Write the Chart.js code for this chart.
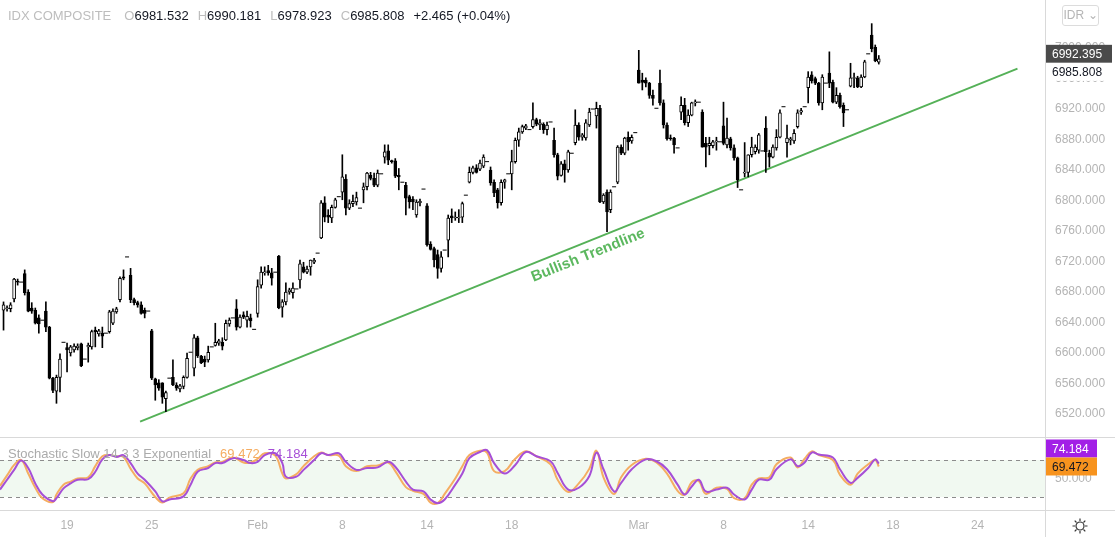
<!DOCTYPE html>
<html>
<head>
<meta charset="utf-8">
<title>IDX Composite</title>
<script src="https://cdn.jsdelivr.net/npm/chart.js@4.4.1/dist/chart.umd.min.js"></script>
<style>
  html, body { margin: 0; padding: 0; background: #fff; }
  body { width: 1115px; height: 537px; overflow: hidden; position: relative; font-family: "Liberation Sans", Arial, sans-serif; }
  canvas { position: absolute; left: 0; }
  #price { top: 0; }
  #stoch { top: 437px; }
  .line { position: absolute; background: #d9d9d9; }
  #legend { position: absolute; left: 8px; top: 8px; font-size: 13px; color: #131722; white-space: pre; }
  #stochLegend { position: absolute; left: 8px; top: 446px; font-size: 13px; color: #ababab; white-space: pre; }
  .g { color: #bdbdbd; }
  .gap { margin-left: 9px; }
  #idr { position: absolute; left: 1062px; top: 5px; width: 35px; height: 19px; border: 1px solid #dcdcdc; border-radius: 3px;
         font-size: 12px; color: #b5b5b5; line-height: 19px; text-align: center; }
  #gear { position: absolute; left: 1071px; top: 517px; }
</style>
</head>
<body>
<div class="line" style="left:0;top:437px;width:1115px;height:1px"></div>
<div class="line" style="left:0;top:510px;width:1115px;height:1px"></div>
<div class="line" style="left:1045px;top:0;width:1px;height:537px"></div>
<canvas id="price" width="1115" height="437"></canvas>
<canvas id="stoch" width="1115" height="100"></canvas>
<div id="legend"></div>
<div id="stochLegend"></div>
<div id="idr">IDR &#8964;</div>
<svg id="gear" width="18" height="18" viewBox="0 0 18 18"><g stroke="#333" stroke-width="1.2" fill="none"><circle cx="9" cy="9" r="4"/><path d="M9 1.5v2.5M9 14v2.5M1.5 9h2.5M14 9h2.5M3.7 3.7l1.8 1.8M12.5 12.5l1.8 1.8M3.7 14.3l1.8-1.8M12.5 5.5l1.8-1.8"/></g></svg>
<script>
// Hourly bars, 14 Jan - 17 Mar, six per session (last one is the closing auction)
const open = [
  6656, 6658, 6658, 6671, 6694, 6693,  6704, 6680, 6659, 6656, 6646, 6643,
  6655, 6634, 6567, 6550, 6568, 6614,  6607, 6600, 6604, 6607, 6612, 6592,
  6608, 6608, 6630, 6625, 6626, 6626,  6628, 6639, 6654, 6670, 6700, 6726,
  6702, 6670, 6666, 6663, 6656, 6655,  6629, 6566, 6561, 6561, 6540, 6567,
  6568, 6558, 6553, 6556, 6568, 6601,  6580, 6620, 6596, 6592, 6591, 6608,
  6610, 6613, 6614, 6617, 6638, 6646,  6658, 6634, 6650, 6643, 6646, 6631,
  6652, 6689, 6705, 6708, 6705, 6706,  6727, 6660, 6667, 6680, 6679, 6684,
  6696, 6713, 6706, 6713, 6719, 6731,  6751, 6797, 6781, 6777, 6791, 6805,
  6811, 6828, 6790, 6796, 6798, 6790,  6814, 6818, 6833, 6829, 6820, 6835,
  6857, 6865, 6852, 6852, 6833, 6824,  6820, 6805, 6802, 6781, 6797, 6815,
  6793, 6743, 6737, 6729, 6711, 6735,  6748, 6780, 6777, 6777, 6778, 6807,
  6824, 6837, 6843, 6841, 6845, 6851,  6840, 6824, 6814, 6797, 6824, 6835,
  6835, 6851, 6879, 6890, 6895, 6893,  6897, 6906, 6899, 6900, 6893, 6903,
  6879, 6860, 6833, 6848, 6840, 6862,  6876, 6899, 6883, 6882, 6899, 6920,
  6911, 6921, 6798, 6811, 6788, 6818,  6824, 6870, 6862, 6883, 6878, 6889,
  6971, 6958, 6958, 6954, 6938, 6921,  6954, 6928, 6899, 6882, 6882, 6869,
  6916, 6925, 6902, 6912, 6928, 6929,  6916, 6875, 6872, 6872, 6877, 6877,
  6898, 6873, 6881, 6869, 6856, 6814,  6836, 6837, 6860, 6864, 6866, 6865,
  6895, 6862, 6857, 6869, 6883, 6923,  6876, 6879, 6878, 6897, 6916, 6923,
  6948, 6965, 6960, 6954, 6928, 6954,  6967, 6955, 6929, 6938, 6925, 6919,
  6950, 6960, 6961, 6949, 6962, 6992.395,  7017, 7001, 6981.532
];
const high = [
  6667, 6662, 6666, 6698, 6697, 6693,  6709, 6683, 6666, 6659, 6650, 6643,
  6667, 6635, 6568, 6571, 6599, 6614,  6613, 6610, 6612, 6612, 6613, 6592,
  6613, 6630, 6634, 6631, 6634, 6626,  6656, 6658, 6660, 6700, 6709, 6726,
  6711, 6672, 6668, 6667, 6659, 6655,  6631, 6567, 6565, 6561, 6550, 6567,
  6591, 6561, 6559, 6570, 6600, 6601,  6624, 6622, 6597, 6596, 6609, 6608,
  6639, 6618, 6620, 6643, 6646, 6646,  6670, 6650, 6654, 6655, 6651, 6631,
  6696, 6713, 6713, 6715, 6711, 6706,  6728, 6670, 6692, 6685, 6692, 6684,
  6722, 6719, 6714, 6722, 6724, 6731,  6800, 6805, 6788, 6794, 6803, 6805,
  6860, 6834, 6801, 6807, 6811, 6790,  6823, 6837, 6837, 6836, 6840, 6835,
  6873, 6873, 6853, 6855, 6842, 6824,  6824, 6807, 6805, 6801, 6802, 6815,
  6796, 6746, 6739, 6735, 6733, 6735,  6781, 6789, 6785, 6788, 6798, 6807,
  6844, 6845, 6847, 6853, 6860, 6851,  6844, 6827, 6816, 6827, 6828, 6835,
  6866, 6882, 6895, 6899, 6900, 6893,  6928, 6908, 6906, 6902, 6903, 6903,
  6895, 6862, 6851, 6853, 6866, 6862,  6919, 6902, 6888, 6906, 6921, 6920,
  6929, 6925, 6809, 6814, 6814, 6818,  6872, 6873, 6883, 6890, 6886, 6889,
  6997, 6967, 6961, 6955, 6945, 6921,  6971, 6932, 6902, 6886, 6883, 6869,
  6936, 6934, 6919, 6929, 6932, 6929,  6919, 6883, 6883, 6879, 6883, 6877,
  6929, 6908, 6883, 6873, 6857, 6814,  6876, 6860, 6883, 6873, 6888, 6865,
  6910, 6866, 6873, 6893, 6919, 6923,  6899, 6883, 6893, 6919, 6921, 6923,
  6969, 6969, 6962, 6955, 6965, 6954,  6995, 6958, 6948, 6941, 6928, 6919,
  6980, 6967, 6963, 6965, 6984, 6992.395,  7032, 7004, 6990.181
];
const low = [
  6630, 6655, 6654, 6667, 6689, 6693,  6676, 6654, 6652, 6638, 6626, 6643,
  6628, 6566, 6548, 6534, 6549, 6614,  6575, 6596, 6601, 6604, 6582, 6592,
  6588, 6605, 6608, 6622, 6607, 6626,  6626, 6637, 6652, 6667, 6696, 6726,
  6666, 6663, 6660, 6651, 6646, 6655,  6565, 6538, 6551, 6534, 6523, 6567,
  6557, 6551, 6549, 6553, 6567, 6601,  6570, 6594, 6586, 6582, 6588, 6608,
  6609, 6610, 6604, 6616, 6635, 6646,  6630, 6633, 6645, 6634, 6634, 6631,
  6647, 6685, 6702, 6702, 6689, 6706,  6658, 6647, 6663, 6677, 6672, 6684,
  6685, 6705, 6704, 6702, 6717, 6731,  6750, 6772, 6771, 6771, 6790, 6805,
  6801, 6781, 6788, 6792, 6794, 6790,  6797, 6814, 6827, 6818, 6818, 6835,
  6849, 6847, 6849, 6830, 6814, 6824,  6781, 6790, 6788, 6778, 6793, 6815,
  6740, 6735, 6713, 6698, 6706, 6735,  6726, 6771, 6774, 6771, 6771, 6807,
  6823, 6835, 6836, 6839, 6843, 6851,  6820, 6805, 6790, 6794, 6816, 6835,
  6814, 6849, 6871, 6888, 6893, 6893,  6895, 6898, 6893, 6888, 6886, 6903,
  6857, 6827, 6832, 6824, 6837, 6862,  6873, 6879, 6879, 6879, 6897, 6920,
  6895, 6797, 6796, 6759, 6784, 6818,  6822, 6860, 6860, 6866, 6875, 6889,
  6954, 6945, 6949, 6934, 6925, 6921,  6925, 6895, 6879, 6879, 6862, 6869,
  6906, 6899, 6897, 6911, 6924, 6929,  6870, 6844, 6860, 6869, 6866, 6877,
  6873, 6869, 6866, 6853, 6817, 6814,  6831, 6831, 6857, 6861, 6862, 6865,
  6837, 6844, 6856, 6866, 6882, 6923,  6857, 6873, 6875, 6895, 6913, 6923,
  6928, 6954, 6952, 6925, 6919, 6954,  6948, 6928, 6927, 6921, 6897, 6919,
  6949, 6948, 6948, 6948, 6961, 6992.395,  6995, 6982, 6978.923
];
const close = [
  6663, 6659, 6663, 6697, 6693, 6693,  6679, 6655, 6655, 6639, 6638, 6643,
  6634, 6567, 6551, 6568, 6592, 6614,  6604, 6608, 6609, 6609, 6583, 6592,
  6610, 6628, 6628, 6629, 6622, 6626,  6654, 6655, 6658, 6698, 6698, 6726,
  6670, 6666, 6663, 6652, 6652, 6655,  6567, 6558, 6554, 6542, 6548, 6567,
  6558, 6554, 6557, 6568, 6593, 6601,  6620, 6596, 6587, 6588, 6601, 6608,
  6614, 6616, 6609, 6639, 6643, 6646,  6634, 6647, 6647, 6648, 6642, 6631,
  6687, 6706, 6706, 6705, 6698, 6706,  6659, 6667, 6680, 6683, 6685, 6684,
  6717, 6706, 6710, 6722, 6722, 6731,  6797, 6778, 6778, 6791, 6801, 6805,
  6831, 6790, 6796, 6799, 6804, 6790,  6818, 6836, 6829, 6820, 6836, 6835,
  6864, 6853, 6851, 6832, 6831, 6824,  6803, 6798, 6798, 6798, 6799, 6815,
  6742, 6736, 6722, 6711, 6726, 6735,  6777, 6777, 6778, 6778, 6796, 6807,
  6837, 6843, 6837, 6849, 6857, 6851,  6823, 6810, 6797, 6824, 6827, 6835,
  6851, 6879, 6890, 6897, 6898, 6893,  6906, 6900, 6902, 6893, 6899, 6903,
  6860, 6832, 6848, 6840, 6864, 6862,  6899, 6883, 6886, 6902, 6916, 6920,
  6921, 6798, 6807, 6785, 6811, 6818,  6870, 6862, 6882, 6877, 6883, 6889,
  6954, 6955, 6954, 6938, 6934, 6921,  6928, 6899, 6881, 6881, 6873, 6869,
  6925, 6902, 6912, 6928, 6929, 6929,  6870, 6870, 6875, 6877, 6878, 6877,
  6875, 6882, 6869, 6856, 6827, 6814,  6837, 6860, 6870, 6870, 6886, 6865,
  6864, 6857, 6870, 6883, 6915, 6923,  6882, 6881, 6888, 6915, 6918, 6923,
  6962, 6957, 6954, 6928, 6962, 6954,  6954, 6929, 6938, 6923, 6915, 6919,
  6961, 6961, 6949, 6962, 6982, 6992.395,  6999, 6983.343, 6985.808
];

// date ticks (bar index -> label)
const tickIdx = [18, 42, 72, 96, 120, 144, 180, 204, 228, 252, 276];
const tickText = ['19', '25', 'Feb', '8', '14', '18', 'Mar', '8', '14', '18', '24'];
const priceTicks = [6520, 6560, 6600, 6640, 6680, 6720, 6760, 6800, 6840, 6880, 6920, 6960, 7000];
const stochTicks = [50];
const stochBands = [80, 20];

const refPrice = 6992.395;
const changeText = '+2.465 (+0.04%)';

// trendline drawn on the chart
const trendX = [38.7, 287.3];
const trendY = [6510, 6973];
const trendText = 'Bullish Trendline';

// Stochastic Slow 14 3 3 Exponential
const stochIdx = [
  -1, 1, 3, 5, 7, 9, 11, 14, 15, 17, 19, 21, 24, 26, 28, 30, 32, 34, 36, 38,
  40, 43, 45, 47, 51, 53, 55, 58, 60, 62, 65, 68, 70, 72, 74, 77, 79, 80, 83, 85,
  88, 90, 92, 95, 97, 100, 103, 106, 109, 111, 114, 116, 119, 121, 123, 125, 128, 130, 132, 135,
  137, 139, 142, 145, 148, 151, 155, 157, 160, 163, 166, 168, 170, 173, 175, 178, 182, 185, 188, 191,
  193, 195, 197, 199, 202, 205, 207, 210, 212, 214, 217, 219, 223, 225, 227, 229, 231, 235, 237, 240,
  242, 245, 247, 248
];
const stochK = [
  38, 55, 72, 80, 58, 35, 18, 12, 24, 40, 45, 50, 52, 70, 86, 88, 86, 85, 66, 50,
  42, 20, 11, 19, 26, 50, 64, 70, 76, 77, 84, 76, 76, 82, 91, 87, 58, 50, 57, 70,
  86, 92, 88, 87, 70, 62, 70, 71, 76, 62, 36, 30, 25, 11, 10, 25, 50, 70, 88, 95,
  92, 62, 62, 82, 94, 86, 73, 48, 28, 42, 66, 95, 52, 25, 52, 72, 82, 76, 58, 30,
  24, 44, 46, 25, 35, 33, 18, 18, 40, 50, 52, 73, 84, 68, 82, 94, 88, 80, 56, 40,
  58, 73, 80, 69.472
];
const stochD = [
  32, 48, 64, 79, 67, 42, 24, 13, 18, 34, 42, 48, 49, 61, 81, 88, 85, 88, 75, 58,
  48, 29, 13, 16, 21, 40, 61, 67, 75, 75, 83, 80, 75, 77, 88, 91, 75, 53, 53, 64,
  80, 91, 88, 91, 77, 64, 67, 68, 77, 69, 45, 32, 29, 16, 10, 16, 40, 58, 83, 93,
  96, 75, 58, 72, 93, 86, 78, 59, 32, 35, 54, 92, 65, 29, 43, 65, 81, 78, 65, 40,
  24, 37, 48, 29, 32, 35, 24, 16, 32, 48, 48, 65, 81, 70, 76, 92, 89, 84, 65, 43,
  51, 67, 81, 74.184
];

const FONT = '"Liberation Sans", Arial, sans-serif';
const purple = '#a64fd6';
const orange = '#f5ad62';
Chart.defaults.font.family = FONT;

const last = close.length - 1;
const kLast = stochK[stochK.length - 1];
const dLast = stochD[stochD.length - 1];

document.getElementById('legend').innerHTML =
  '<span class="g">IDX COMPOSITE</span>' +
  '<span class="g" style="margin-left:13px">O</span>' + open[last].toFixed(3) +
  '<span class="g gap">H</span>' + high[last].toFixed(3) +
  '<span class="g gap">L</span>' + low[last].toFixed(3) +
  '<span class="g gap">C</span>' + close[last].toFixed(3) +
  '<span class="gap">' + changeText + '</span>';
document.getElementById('stochLegend').innerHTML =
  'Stochastic Slow 14 3 3 Exponential' +
  '<span style="color:' + orange + ';margin-left:9px">' + kLast.toFixed(3) + '</span>' +
  '<span style="color:' + purple + ';margin-left:8px">' + dLast.toFixed(3) + '</span>';

// split bars into wicks, bodies and single-price dashes
const bodies = [], bodyColors = [], wicks = [], dashes = [];
close.forEach((c, i) => {
  const o = open[i], h = high[i], l = low[i];
  if (o === c && h === l && h === c) {
    dashes.push({ x: i, y: c });
    return;
  }
  wicks.push({ x: i, y: [l, h] });
  bodies.push({ x: i, y: [o, c] });
  bodyColors.push(c >= o ? '#ffffff' : '#000000');
});

const xAxis = {
  type: 'linear', min: -1, max: 295.1, offset: false,
  grid: { display: false, drawTicks: false }, border: { display: false }
};

// right axis: fixed width, no extra padding above/below the plot
function fitRight(s) {
  s.width = 70;
  s.paddingTop = 0;
  s.paddingBottom = 0;
}

function badge(ctx, x, y, text, bg, fg, w) {
  ctx.font = '12px ' + FONT;
  const width = w || ctx.measureText(text).width + 12;
  ctx.fillStyle = bg;
  ctx.fillRect(x, y - 9, width, 18);
  ctx.fillStyle = fg;
  ctx.textAlign = 'left';
  ctx.textBaseline = 'middle';
  ctx.fillText(text, x + 6, y + 1);
}

const trendLabel = {
  id: 'trendLabel',
  afterDatasetsDraw(chart) {
    const { ctx, scales: { x, y } } = chart;
    const x1 = x.getPixelForValue(trendX[0]), y1 = y.getPixelForValue(trendY[0]);
    const x2 = x.getPixelForValue(trendX[1]), y2 = y.getPixelForValue(trendY[1]);
    const ang = Math.atan2(y2 - y1, x2 - x1);
    const cx = x1 + (x2 - x1) * 0.505 - Math.sin(ang) * 13;
    const cy = y1 + (y2 - y1) * 0.505 + Math.cos(ang) * 13;
    ctx.save();
    ctx.translate(cx, cy);
    ctx.rotate(ang);
    ctx.font = 'bold 15px ' + FONT;
    ctx.fillStyle = '#5cb85f';
    ctx.textAlign = 'center';
    ctx.textBaseline = 'middle';
    ctx.fillText(trendText, 0, 0);
    ctx.restore();
  }
};

const priceBadges = {
  id: 'priceBadges',
  afterDraw(chart) {
    const { ctx, chartArea, scales: { y } } = chart;
    const left = chartArea.right + 1;
    const yRef = y.getPixelForValue(refPrice);
    const yLast = Math.max(y.getPixelForValue(close[last]), yRef + 18);
    ctx.save();
    badge(ctx, left, yRef, refPrice.toFixed(3), '#4a4a4a', '#ffffff', 66);
    badge(ctx, left, yLast, close[last].toFixed(3), '#ffffff', '#131722', 66);
    ctx.restore();
  }
};

const stochBand = {
  id: 'stochBand',
  beforeDatasetsDraw(chart) {
    const { ctx, chartArea, scales: { y } } = chart;
    const yTop = y.getPixelForValue(stochBands[0]);
    const yBot = y.getPixelForValue(stochBands[1]);
    ctx.save();
    ctx.fillStyle = 'rgba(76, 175, 80, 0.08)';
    ctx.fillRect(chartArea.left, yTop, chartArea.right - chartArea.left, yBot - yTop);
    ctx.strokeStyle = '#8c8c8c';
    ctx.lineWidth = 1;
    ctx.setLineDash([4, 4]);
    [yTop, yBot].forEach(py => {
      ctx.beginPath();
      ctx.moveTo(chartArea.left, Math.round(py) + 0.5);
      ctx.lineTo(chartArea.right, Math.round(py) + 0.5);
      ctx.stroke();
    });
    ctx.restore();
  },
  afterDraw(chart) {
    const { ctx, chartArea, scales: { y } } = chart;
    const left = chartArea.right + 1;
    const yK = y.getPixelForValue(kLast);
    const yD = Math.min(y.getPixelForValue(dLast), yK - 18);
    ctx.save();
    badge(ctx, left, yD, dLast.toFixed(3), '#a21fe6', '#ffffff', 51);
    badge(ctx, left, yK, kLast.toFixed(3), '#f7931e', '#131722', 51);
    ctx.restore();
  }
};

new Chart(document.getElementById('price'), {
  type: 'bar',
  data: {
    datasets: [
      { type: 'line', data: trendX.map((v, i) => ({ x: v, y: trendY[i] })), borderColor: '#55b158',
        borderWidth: 2, pointRadius: 0, order: 4 },
      { data: wicks, backgroundColor: '#000000', barThickness: 1, grouped: false, order: 3 },
      { data: bodies, backgroundColor: bodyColors, borderColor: '#000000', borderWidth: 1, borderSkipped: false,
        barThickness: 3, minBarLength: 1, grouped: false, order: 2 },
      { type: 'line', data: dashes, showLine: false, pointStyle: 'line', pointRadius: 2,
        pointBorderWidth: 1, pointBorderColor: '#000000', order: 1 }
    ]
  },
  options: {
    responsive: false,
    animation: false,
    devicePixelRatio: 1,
    layout: { padding: 0, autoPadding: false },
    plugins: { legend: { display: false }, tooltip: { enabled: false } },
    scales: {
      x: { ...xAxis, display: false },
      y: {
        position: 'right', min: 6489.8, max: 7063,
        grid: { display: false, drawTicks: false }, border: { display: false },
        afterFit: fitRight,
        afterBuildTicks: s => { s.ticks = priceTicks.map(v => ({ value: v })); },
        ticks: { padding: 10, color: '#b4b4b4', font: { size: 12 }, callback: v => v.toFixed(3) }
      }
    }
  },
  plugins: [trendLabel, priceBadges]
});

new Chart(document.getElementById('stoch'), {
  type: 'line',
  data: {
    datasets: [
      { data: stochIdx.map((v, i) => ({ x: v, y: stochK[i] })), borderColor: orange, borderWidth: 2,
        pointRadius: 0, tension: 0.4, order: 2 },
      { data: stochIdx.map((v, i) => ({ x: v, y: stochD[i] })), borderColor: purple, borderWidth: 2,
        pointRadius: 0, tension: 0.4, order: 1 }
    ]
  },
  options: {
    responsive: false,
    animation: false,
    devicePixelRatio: 1,
    layout: { padding: 0, autoPadding: false },
    plugins: { legend: { display: false }, tooltip: { enabled: false } },
    scales: {
      x: {
        ...xAxis,
        afterFit: s => { s.height = 27; s.paddingLeft = 0; s.paddingRight = 0; },
        afterBuildTicks: s => { s.ticks = tickIdx.map(v => ({ value: v })); },
        ticks: { autoSkip: false, maxRotation: 0, padding: 8, color: '#b4b4b4', font: { size: 12 },
                 callback: v => tickText[tickIdx.indexOf(v)] }
      },
      y: {
        position: 'right', min: -1.1, max: 117.3,
        grid: { display: false, drawTicks: false }, border: { display: false },
        afterFit: fitRight,
        afterBuildTicks: s => { s.ticks = stochTicks.map(v => ({ value: v })); },
        ticks: { padding: 10, color: '#b4b4b4', font: { size: 12 }, callback: v => v.toFixed(3) }
      }
    }
  },
  plugins: [stochBand]
});
</script>
</body>
</html>
